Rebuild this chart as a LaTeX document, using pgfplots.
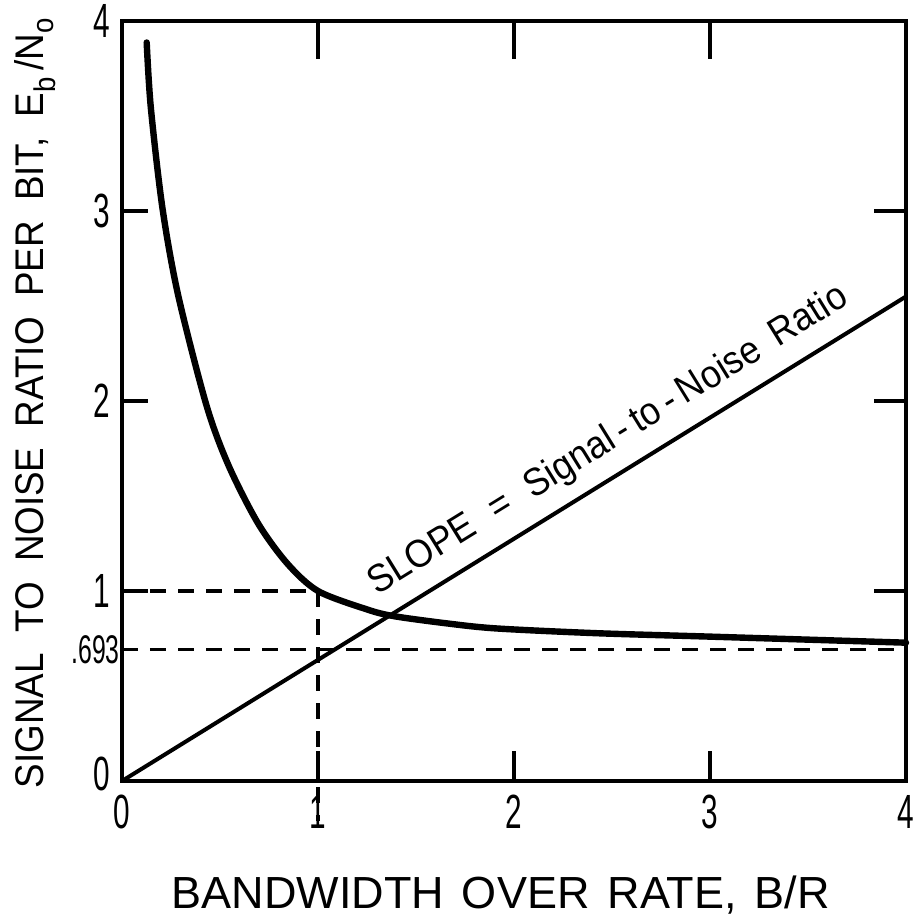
\documentclass[border=0pt]{standalone}
\usepackage{pgfplots}
\pgfplotsset{compat=1.18}
\usepackage{fontspec}
\setmainfont{Liberation Sans}
\newfontfamily\tickfont[FakeStretch=0.62]{Liberation Sans}
\newfontfamily\narrowfont[FakeStretch=0.92]{Liberation Sans}

\begin{document}
\begin{tikzpicture}
\useasboundingbox (-61pt,-67.5pt) rectangle (396.5pt,390.5pt);
\begin{axis}[
  at={(0,0)}, anchor=south west,
  width=392pt, height=380pt, scale only axis,
  xmin=0, xmax=4, ymin=0, ymax=4,
  clip=false,
  axis line style={line width=2pt},
  major tick length=0pt,
  xtick={0,1,2,3,4}, xticklabels={0,1,2,3,4},
  ytick={0,1,2,3,4}, yticklabels={\raisebox{7pt}{0},1,2,3,4},
  extra y ticks={0.693}, extra y tick labels={.693},
  extra y tick style={yticklabel style={font=\fontsize{20}{20}\tickfont, xshift=5pt}},
  xticklabel style={font=\fontsize{24}{24}\tickfont, anchor=north, inner sep=0pt, yshift=-7pt},
  yticklabel style={font=\fontsize{24}{24}\tickfont, anchor=east, inner sep=0pt, xshift=-6pt},
  xlabel={BANDWIDTH\hspace{0.4em}OVER\hspace{0.4em}RATE,\hspace{0.4em}B/R},
  xlabel style={font=\fontsize{22.5}{22.5}\selectfont, at={(axis description cs:0.483,0)}, anchor=base, yshift=-63.5pt},
  ylabel={SIGNAL\hspace{0.51em}TO\hspace{0.51em}NOISE\hspace{0.51em}RATIO\hspace{0.51em}PER\hspace{0.51em}BIT,\hspace{0.51em}E\raisebox{-0.3em}{\fontsize{15}{15}\narrowfont b}\,/N\raisebox{-0.25em}{\fontsize{15}{15}\narrowfont o}},
  ylabel style={font=\fontsize{20}{20}\narrowfont, at={(axis description cs:-0.111,0.497)}, anchor=center},
]
% energy per bit required versus bandwidth expansion
\addplot[line width=3.2pt, line cap=round, smooth] coordinates {
  (0.126,3.887) (0.147,3.545) (0.206,3.018) (0.286,2.559) (0.431,1.977)
  (0.544,1.660) (0.693,1.358) (0.843,1.145) (1.0,1.0) (1.247,0.904)
  (1.385,0.868) (1.654,0.830) (1.909,0.803) (2.419,0.778) (2.995,0.760)
  (4.0,0.728)
};
% straight line through the origin
\addplot[line width=2pt] coordinates {(0,0) (4,2.55)};
% reference lines
\addplot[line width=1.8pt, dash pattern=on 8pt off 6pt] coordinates {(0,1) (1,1)};
\addplot[line width=1.8pt, dash pattern=on 8pt off 6pt] coordinates {(1,1) (1,-0.21)};
\addplot[line width=1.8pt, dash pattern=on 8pt off 6pt] coordinates {(0,0.693) (4,0.693)};
% tick marks
\pgfplotsinvokeforeach{1,2,3}{
  \draw[line width=2pt] (axis cs:0,#1) -- ++(13pt,0pt);
  \draw[line width=2pt] (axis cs:4,#1) -- ++(-16pt,0pt);
  \draw[line width=2pt] (axis cs:#1,4) -- ++(0pt,-19pt);
  \draw[line width=2pt] (axis cs:#1,0) -- ++(0pt,15pt);
}
\node[font=\fontsize{19.5}{19.5}\narrowfont, rotate=31.7, anchor=base west, inner sep=0pt]
  at (axis cs:1.30,0.975) {SLOPE\hspace{0.55em}=\hspace{0.55em}Signal\,-\,to\,-\,Noise\hspace{0.45em}Ratio};
\end{axis}
\end{tikzpicture}
\end{document}
